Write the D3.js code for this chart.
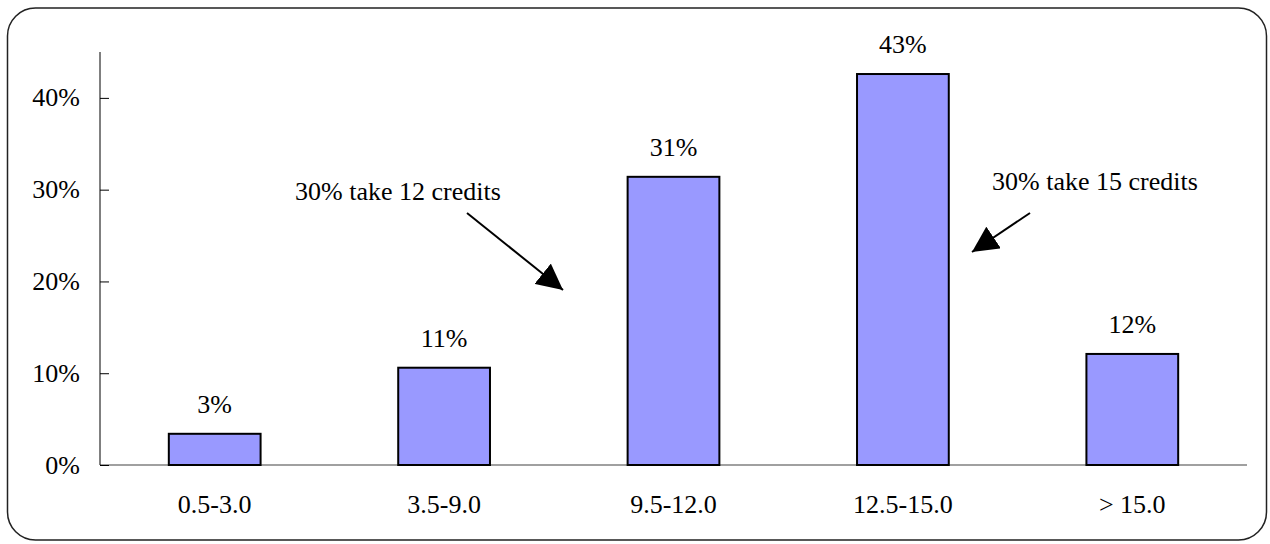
<!DOCTYPE html>
<html><head><meta charset="utf-8">
<script src="https://cdn.jsdelivr.net/npm/d3@7"></script>
<style>body{margin:0;background:#fff}svg{display:block}text{font-family:"Liberation Serif","Times New Roman",serif;fill:#000}</style>
</head><body><svg id="c" width="1270" height="544"></svg>
<script>
const categories = ["0.5-3.0","3.5-9.0","9.5-12.0","12.5-15.0","> 15.0"];
const values = [3.4, 10.6, 31.4, 42.6, 12.1];
const valueLabels = ["3%","11%","31%","43%","12%"];
const yTicks = [0,10,20,30,40];
const notes = [
  {text:"30% take 12 credits", x:295, y:200, from:[467,213], to:[563,290]},
  {text:"30% take 15 credits", x:992, y:190, from:[1030,213], to:[972,252]}
];
const FS = 26;

const svg = d3.select("#c");
svg.append("rect").attr("x",7.5).attr("y",8).attr("width",1259).attr("height",532)
  .attr("rx",28).attr("ry",28).attr("fill","#fff").attr("stroke","#222").attr("stroke-width",1.5);

const pLeft=100, pRight=1247, pTop=52, pBottom=465;
const x = d3.scaleBand().domain(categories).range([pLeft,pRight]).paddingInner(0.6).paddingOuter(0.3);
const y = d3.scaleLinear().domain([0,45]).range([pBottom,pTop]);

// baseline
svg.append("line").attr("x1",pLeft).attr("x2",pRight).attr("y1",pBottom).attr("y2",pBottom)
  .attr("stroke","#808080").attr("stroke-width",1.5);

// y axis
const yAxis = d3.axisRight(y).tickValues(yTicks).tickSize(9).tickFormat(()=> "");
const ga = svg.append("g").attr("transform",`translate(${pLeft},0)`).call(yAxis);
ga.select(".domain").attr("stroke","#000").attr("d",`M0,${pTop}V${pBottom}`);
ga.selectAll(".tick line").attr("stroke","#000");
svg.selectAll(".ylab").data(yTicks).join("text").attr("class","ylab")
  .attr("x",80).attr("y",d=>y(d)).attr("dy","0.33em").attr("text-anchor","end")
  .attr("font-size",FS).text(d=>d+"%");

// bars
svg.selectAll(".bar").data(values).join("rect").attr("class","bar")
  .attr("x",(d,i)=>x(categories[i])).attr("width",x.bandwidth())
  .attr("y",d=>y(d)).attr("height",d=>y(0)-y(d))
  .attr("fill","#9999FF").attr("stroke","#000").attr("stroke-width",2);

svg.selectAll(".vlab").data(values).join("text").attr("class","vlab")
  .attr("x",(d,i)=>x(categories[i])+x.bandwidth()/2).attr("y",d=>y(d)-21)
  .attr("text-anchor","middle").attr("font-size",FS).text((d,i)=>valueLabels[i]);

svg.selectAll(".xlab").data(categories).join("text").attr("class","xlab")
  .attr("x",d=>x(d)+x.bandwidth()/2).attr("y",513)
  .attr("text-anchor","middle").attr("font-size",FS).text(d=>d);

// annotations
svg.append("defs").append("marker").attr("id","ah").attr("viewBox","0 0 10 10")
  .attr("refX",10).attr("refY",5).attr("markerWidth",26).attr("markerHeight",26)
  .attr("markerUnits","userSpaceOnUse").attr("orient","auto")
  .append("path").attr("d","M0,0L10,5L0,10Z").attr("fill","#000");
notes.forEach(n=>{
  svg.append("text").attr("x",n.x).attr("y",n.y).attr("font-size",FS).text(n.text);
  svg.append("line").attr("x1",n.from[0]).attr("y1",n.from[1]).attr("x2",n.to[0]).attr("y2",n.to[1])
    .attr("stroke","#000").attr("stroke-width",2).attr("marker-end","url(#ah)");
});
</script></body></html>
